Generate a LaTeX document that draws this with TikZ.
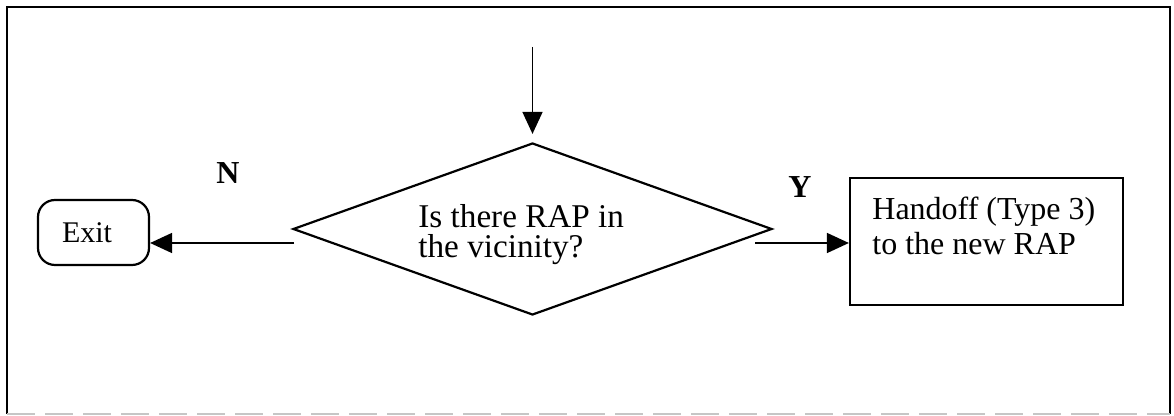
\documentclass[tikz,border=0pt]{standalone}
\usepackage{fontspec}
\setmainfont{Liberation Serif}
\usetikzlibrary{arrows.meta,shapes.geometric}
\tikzset{
  px/.style={x=0.5pt,y=-0.5pt},
  arr/.style={line width=0.8pt,-{Triangle[length=11pt,width=10pt]}},
  frameline/.style={line width=1.1pt},
  decision/.style={draw,shape=diamond,line width=1.1pt,inner sep=0pt,minimum width=239.5pt,minimum height=86pt},
  procbox/.style={draw,rectangle,line width=1.1pt,inner sep=0pt,minimum width=136.5pt,minimum height=63.5pt},
  terminal/.style={draw,rectangle,rounded corners=8.5pt,line width=1.1pt,minimum width=55.5pt,minimum height=32.5pt,inner xsep=12pt,inner ysep=0pt,text width=31.5pt,align=left},
  txt/.style={inner sep=0pt,align=left},
  lbl/.style={inner sep=0pt,font=\fontsize{16}{18}\selectfont\bfseries}
}
\begin{document}
\begin{tikzpicture}[px]
\useasboundingbox (0,0) rectangle (1174,416);
% outer frame
\draw[frameline] (7,414) -- (7,7) -- (1170,7) -- (1170,414);
\draw[gray!45,line width=0.8pt,dash pattern=on 14pt off 5pt] (7,414) -- (1170,414);
% nodes
\node[decision] (dec) at (532.5,229) {};
\node[txt,anchor=north west,font=\fontsize{16.6}{15}\selectfont] (dectxt) at (418,204) {Is there RAP in\\the vicinity?};
\node[terminal,font=\fontsize{15}{18}\selectfont] (exit) at (93.5,232.5) {Exit};
\node[procbox] (box) at (986.5,241.5) {};
\node[txt,anchor=north west,font=\fontsize{16}{17.2}\selectfont] (boxtxt) at (872,197) {Handoff (Type 3)\\to the new RAP};
\node[lbl] (nlbl) at (228,173) {N};
\node[lbl] (ylbl) at (800,187) {Y};
% connectors
\coordinate (topin) at (532.5,47);
\draw[arr,shorten >=4pt] (topin) -- (dec.north);
\coordinate (nstart) at (294,243);
\draw[arr] (nstart) -- (nstart -| exit.east);
\coordinate (ystart) at (755,243);
\draw[arr] (ystart) -- (ystart -| box.west);
\end{tikzpicture}
\end{document}
